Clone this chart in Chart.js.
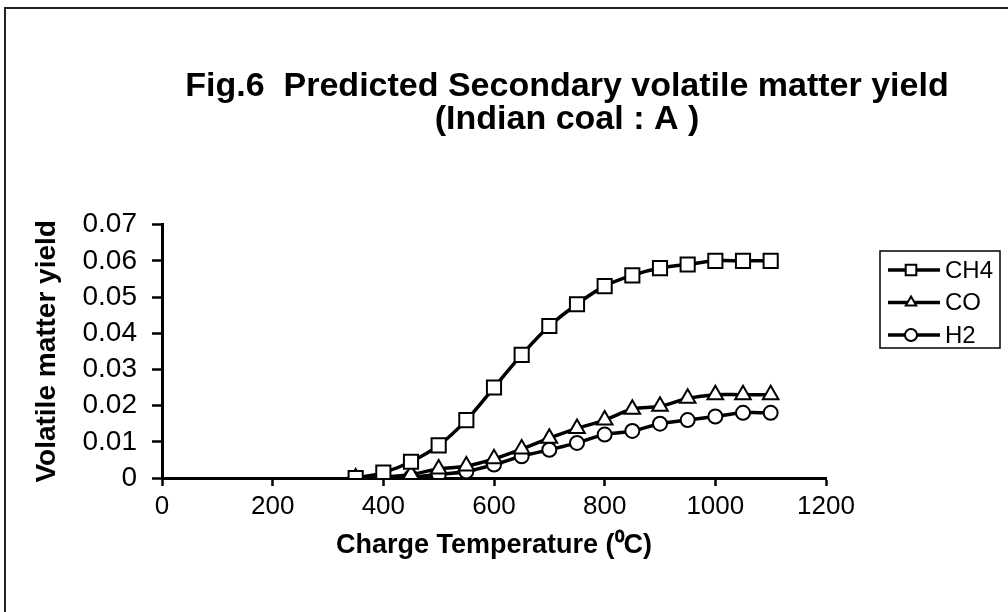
<!DOCTYPE html>
<html>
<head>
<meta charset="utf-8">
<script src="https://cdn.jsdelivr.net/npm/chart.js@4.4.0/dist/chart.umd.min.js"></script>
<style>
  html, body { margin: 0; padding: 0; background: #fff; }
  #wrap { width: 1008px; height: 612px; }
</style>
</head>
<body>
<div id="wrap"><canvas id="myChart" width="1008" height="612"></canvas></div>
<script>
const temps = [350, 400, 450, 500, 550, 600, 650, 700, 750, 800, 850, 900, 950, 1000, 1050, 1100];
const ch4 = [0, 0.0015, 0.0045, 0.009, 0.016, 0.025, 0.034, 0.042, 0.048, 0.053, 0.056, 0.058, 0.059, 0.060, 0.060, 0.060];
const co = [0, 0.0003, 0.001, 0.0025, 0.0033, 0.0053, 0.008, 0.011, 0.0137, 0.016, 0.019, 0.0198, 0.022, 0.023, 0.023, 0.023];
const h2 = [0, 0, 0.0002, 0.001, 0.0018, 0.0037, 0.006, 0.0078, 0.0097, 0.012, 0.013, 0.015, 0.016, 0.017, 0.018, 0.018];
const seriesNames = ["CH4", "CO", "H2"];
const markers = ["rect", "triangle", "circle"];
const titleLines = ["Fig.6  Predicted Secondary volatile matter yield", "(Indian coal : A )"];
const xTicksStep = 200;
const yTicksStep = 0.01;

const fontName = "'Liberation Sans', Arial, sans-serif";

function toPoints(values) {
  return values.map((v, i) => ({ x: temps[i], y: v }));
}

const seriesValues = [ch4, co, h2];
const markerRadius = [10, 9, 7];

const datasets = seriesNames.map((name, i) => ({
  label: name,
  data: toPoints(seriesValues[i]),
  borderColor: "#000",
  borderWidth: 3.5,
  backgroundColor: "#fff",
  pointStyle: markers[i],
  pointRadius: markerRadius[i],
  pointBorderWidth: 2,
  pointBorderColor: "#000",
  pointBackgroundColor: "#fff",
  tension: 0.4,
  fill: false,
}));

// frame + white background
const framePlugin = {
  id: "frame",
  beforeDraw(chart) {
    const ctx = chart.ctx;
    ctx.save();
    ctx.fillStyle = "#fff";
    ctx.fillRect(0, 0, chart.width, chart.height);
    ctx.strokeStyle = "#222";
    ctx.lineWidth = 2;
    ctx.strokeRect(5, 8, chart.width + 10, chart.height + 10);
    ctx.restore();
  },
};

// excel centres the title over the plot + legend, not the whole box
const titleShift = {
  id: "titleShift",
  afterLayout(chart) {
    if (chart.titleBlock) {
      chart.titleBlock.left = 126;
      chart.titleBlock.right = 1008;
    }
  },
};

// legend box on the right, like the excel one
const boxLegend = {
  id: "boxLegend",
  afterDraw(chart) {
    const ctx = chart.ctx;
    const left = 880, top = 251, w = 120, h = 97;
    ctx.save();
    ctx.strokeStyle = "#000";
    ctx.lineWidth = 1.5;
    ctx.strokeRect(left, top, w, h);
    chart.data.datasets.forEach((ds, i) => {
      const y = top + 19 + i * 32.5;
      ctx.strokeStyle = "#000";
      ctx.lineWidth = 3.5;
      ctx.beginPath();
      ctx.moveTo(left + 8, y);
      ctx.lineTo(left + 60, y);
      ctx.stroke();
      ctx.fillStyle = "#fff";
      ctx.strokeStyle = "#000";
      ctx.lineWidth = 2;
      Chart.helpers.drawPoint(ctx, { pointStyle: ds.pointStyle, radius: ds.pointStyle === "rect" ? 7.5 : 6, borderWidth: 2 }, left + 31, y);
      ctx.fillStyle = "#000";
      ctx.font = "24px " + fontName;
      ctx.textBaseline = "middle";
      ctx.textAlign = "left";
      ctx.fillText(ds.label, left + 65, y + 1);
    });
    ctx.restore();
  },
};

new Chart("myChart", {
  type: "line",
  data: { datasets: datasets },
  options: {
    responsive: false,
    animation: false,
    layout: { padding: { left: 30, right: 0, top: 0, bottom: 0 } },
    plugins: {
      legend: { display: false },
      tooltip: { enabled: false },
      title: {
        display: true,
        text: titleLines,
        color: "#000",
        font: { family: fontName, size: 34, weight: "bold", lineHeight: 0.98 },
        padding: { top: 70, bottom: 88 },
      },
    },
    scales: {
      x: {
        type: "linear",
        min: 0,
        max: 1200,
        border: { color: "#000", width: 3 },
        grid: { display: true, drawOnChartArea: false, tickLength: 8, tickColor: "#000", tickWidth: 2.5 },
        ticks: {
          stepSize: xTicksStep,
          color: "#000",
          padding: 5,
          maxRotation: 0,
          autoSkip: false,
          font: { family: fontName, size: 26 },
          callback: (v) => String(v),
        },
        title: {
          display: true,
          text: "Charge Temperature (\u2070C)",
          color: "#000",
          font: { family: fontName, size: 27, weight: "bold" },
          padding: { top: 0, bottom: 50 },
        },
        afterFit(scale) { scale.height = 134; },
      },
      y: {
        min: 0,
        max: 0.07,
        border: { color: "#000", width: 3 },
        grid: { display: true, drawOnChartArea: false, tickLength: 10, tickColor: "#000", tickWidth: 2.5 },
        ticks: {
          stepSize: yTicksStep,
          color: "#000",
          padding: 15,
          autoSkip: false,
          font: { family: fontName, size: 28 },
          callback: (v) => String(+v.toFixed(2)),
        },
        title: {
          display: true,
          text: "Volatile matter yield",
          color: "#000",
          font: { family: fontName, size: 28, weight: "bold" },
          padding: { top: 0, bottom: 0 },
        },
        afterFit(scale) { scale.width = 132; },
      },
      // empty right-hand box that leaves room for the legend
      yRoom: {
        position: "right",
        min: 0,
        max: 1,
        grid: { display: false },
        border: { display: false },
        ticks: { display: false },
        afterFit(scale) { scale.width = 182; },
      },
    },
  },
  plugins: [framePlugin, titleShift, boxLegend],
});
</script>
</body>
</html>
